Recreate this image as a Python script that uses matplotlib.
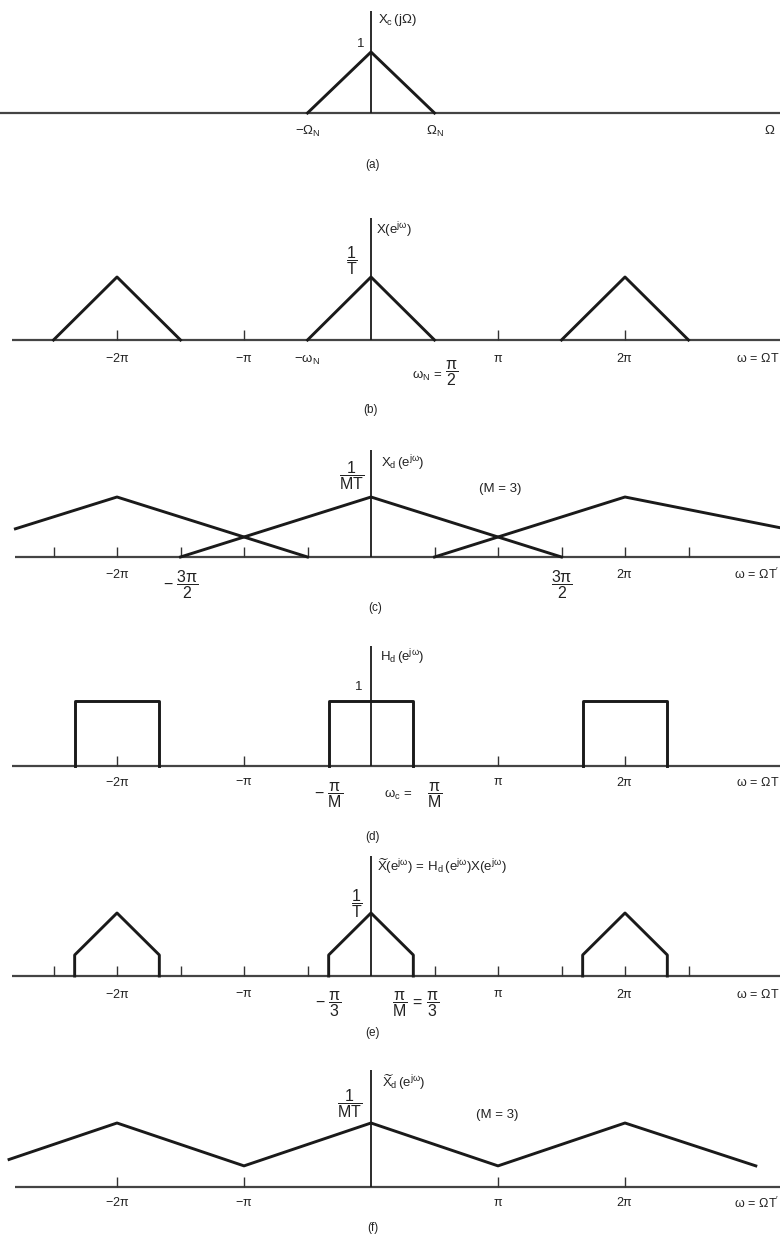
import matplotlib.pyplot as plt
import numpy as np

plt.rcParams['font.family'] = ['Liberation Sans', 'DejaVu Sans']
plt.rcParams['mathtext.fontset'] = 'custom'
plt.rcParams['mathtext.rm'] = 'Liberation Sans'
plt.rcParams['mathtext.it'] = 'Liberation Sans:italic'
plt.rcParams['mathtext.default'] = 'regular'

# x values are in units of pi (omega / pi), heights relative to the peak

# (a) continuous-time spectrum, Omega_N drawn at the same width as pi/2
a_x = [-0.5, 0, 0.5]
a_y = [0, 1, 0]

# (b) X(e^jw): triangles of half-width pi/2 repeated every 2pi
b_centers = [-2, 0, 2]
b_shape_x = [-0.5, 0, 0.5]
b_shape_y = [0, 1, 0]
b_ticks = [-2, -1, 1, 2]

# (c) Xd(e^jw), M = 3, stretched triangles (half-width 3pi/2)
c_left_x = [-2.8, -2, -0.5]
c_left_y = [0.47, 1, 0]
c_mid_x = [-1.5, 0, 1.5]
c_mid_y = [0, 1, 0]
c_right_x = [0.5, 2, 3.24]
c_right_y = [0, 1, 0.48]
c_ticks = [-2.5, -2, -1.5, -1, -0.5, 0.5, 1, 1.5, 2, 2.5]

# (d) Hd(e^jw), ideal lowpass, cutoff pi/M
d_centers = [-2, 0, 2]
d_shape_x = [-1/3, -1/3, 1/3, 1/3]
d_shape_y = [0, 1, 1, 0]
d_ticks = [-2, -1, 1, 2]

# (e) filtered spectrum: triangles cut at +-pi/3
e_centers = [-2, 0, 2]
e_shape_x = [-1/3, -1/3, 0, 1/3, 1/3]
e_shape_y = [0, 1/3, 1, 1/3, 0]
e_ticks = [-2.5, -2, -1.5, -1, -0.5, 0.5, 1, 1.5, 2, 2.5]

# (f) decimated filtered spectrum
f_x = [-2.85, -2, -1, 0, 1, 2, 3.03]
f_y = [0.43, 1, 0.33, 1, 0.33, 1, 0.33]
f_ticks = [-2, -1, 1, 2]

W, H = 780, 1237
X0, PI_PX = 371, 127
LINE = '#1a1a1a'
AXC = '#444444'
TS = 9      # tick label size
LS = 9.5    # curve label size
FS = 11.5   # fraction size

fig = plt.figure(figsize=(W / 100, H / 100), dpi=100)
fig.patch.set_facecolor('white')


def make_axes(top, bot, base, unit):
    ax = fig.add_axes([0, 1 - bot / H, 1, (bot - top) / H])
    ax.set_xlim(-X0 / PI_PX, (W - X0) / PI_PX)
    ax.set_ylim(-(bot - base) / unit, (base - top) / unit)
    ax.axis('off')
    ax.unit = unit
    return ax


def px_x(p):
    return (p - X0) / PI_PX


def below(ax, x, off, s, size=TS, ha='center'):
    ax.text(x, -off / ax.unit, s, ha=ha, va='center', fontsize=size, color='#222')


def ftext(xp, yp, s, size=LS, ha='center'):
    fig.text(xp / W, 1 - yp / H, s, ha=ha, va='center', fontsize=size, color='#222')


def base_axis(ax, start, vtop, ticks):
    ax.hlines(0, start, (W - X0) / PI_PX, color=AXC, lw=1.6)
    ax.vlines(0, 0, vtop / ax.unit, color=LINE, lw=1.3)
    if len(ticks):
        ax.vlines(ticks, 0, 10 / ax.unit, color='#333', lw=1.0)


# ---- (a)
ax = make_axes(0, 200, 113, 61)
base_axis(ax, px_x(0), 102, [])
ax.plot(a_x, a_y, color=LINE, lw=2.1)
ftext(378, 20, r'$X_c\,(j\Omega)$', ha='left')
ftext(361, 44, '1')
below(ax, -0.5, 18, r'$-\Omega_N$', size=LS)
below(ax, 0.5, 18, r'$\Omega_N$', size=LS)
below(ax, px_x(770), 17, r'$\Omega$', size=LS)
ftext(372, 165, '(a)', size=8.5)

# ---- (b)
ax = make_axes(200, 420, 340, 63)
base_axis(ax, px_x(12), 122, b_ticks)
for c in b_centers:
    ax.plot(np.array(b_shape_x) + c, b_shape_y, color=LINE, lw=2.1)
ftext(376, 230, r'$X(e^{j\omega})$', ha='left')
ftext(352, 261, r'$\dfrac{1}{T}$', size=FS)
below(ax, -2, 19, r'$-2\pi$')
below(ax, -1, 19, r'$-\pi$')
below(ax, -0.5, 20, r'$-\omega_N$', size=LS)
below(ax, 1, 19, r'$\pi$')
below(ax, 2, 19, r'$2\pi$')
below(ax, px_x(779), 19, r'$\omega\,=\,\Omega T$', ha='right')
ftext(412, 376, r'$\omega_N\,=$', ha='left')
ftext(452, 373, r'$\dfrac{\pi}{2}$', size=FS)
ftext(370, 410, '(b)', size=8.5)

# ---- (c)
ax = make_axes(420, 620, 557, 60)
base_axis(ax, px_x(15), 107, c_ticks)
ax.plot(c_left_x, c_left_y, color=LINE, lw=2.1)
ax.plot(c_mid_x, c_mid_y, color=LINE, lw=2.1)
ax.plot(c_right_x, c_right_y, color=LINE, lw=2.1)
ftext(381, 463, r'$X_d\,(e^{j\omega})$', ha='left')
ftext(352, 476, r'$\dfrac{1}{MT}$', size=FS)
ftext(500, 489, '(M = 3)')
below(ax, -2, 17, r'$-2\pi$')
below(ax, -1.5, 28, r'$-\ \dfrac{3\pi}{2}$', size=FS)
below(ax, 1.5, 28, r'$\dfrac{3\pi}{2}$', size=FS)
below(ax, 2, 17, r'$2\pi$')
below(ax, px_x(779), 17, r"$\omega\,=\,\Omega T'$", ha='right')
ftext(375, 608, '(c)', size=8.5)

# ---- (d)
ax = make_axes(620, 830, 766, 65)
base_axis(ax, px_x(12), 120, d_ticks)
for c in d_centers:
    ax.plot(np.array(d_shape_x) + c, d_shape_y, color=LINE, lw=2.1)
ftext(380, 657, r'$H_d\,(e^{j\omega})$', ha='left')
ftext(359, 687, '1')
below(ax, -2, 16, r'$-2\pi$')
below(ax, -1, 16, r'$-\pi$')
below(ax, -1/3, 29, r'$-\ \dfrac{\pi}{M}$', size=FS)
below(ax, 1, 16, r'$\pi$')
below(ax, 2, 16, r'$2\pi$')
below(ax, px_x(779), 16, r'$\omega\,=\,\Omega T$', ha='right')
ftext(384, 795, r'$\omega_c\,=$', ha='left')
ftext(435, 795, r'$\dfrac{\pi}{M}$', size=FS)
ftext(372, 837, '(d)', size=8.5)

# ---- (e)
ax = make_axes(830, 1040, 976, 63)
base_axis(ax, px_x(12), 120, e_ticks)
for c in e_centers:
    ax.plot(np.array(e_shape_x) + c, e_shape_y, color=LINE, lw=2.1)
ftext(377, 866, r'$\widetilde{X}(e^{j\omega})\,=\,H_d\,(e^{j\omega})X(e^{j\omega})$', ha='left')
ftext(357, 904, r'$\dfrac{1}{T}$', size=FS)
below(ax, -2, 18, r'$-2\pi$')
below(ax, -1, 18, r'$-\pi$')
below(ax, -1/3, 28, r'$-\ \dfrac{\pi}{3}$', size=FS)
below(ax, 1, 18, r'$\pi$')
below(ax, 2, 18, r'$2\pi$')
below(ax, px_x(779), 18, r'$\omega\,=\,\Omega T$', ha='right')
ftext(416, 1004, r'$\dfrac{\pi}{M}\,=\,\dfrac{\pi}{3}$', size=FS)
ftext(372, 1033, '(e)', size=8.5)

# ---- (f)
ax = make_axes(1040, 1237, 1187, 64)
base_axis(ax, px_x(15), 117, f_ticks)
ax.plot(f_x, f_y, color=LINE, lw=2.1)
ftext(382, 1082, r'$\widetilde{X}_d\,(e^{j\omega})$', ha='left')
ftext(350, 1104, r'$\dfrac{1}{MT}$', size=FS)
ftext(497, 1115, '(M = 3)')
below(ax, -2, 16, r'$-2\pi$')
below(ax, -1, 16, r'$-\pi$')
below(ax, 1, 16, r'$\pi$')
below(ax, 2, 16, r'$2\pi$')
below(ax, px_x(779), 16, r"$\omega\,=\,\Omega T'$", ha='right')
ftext(373, 1228, '(f)', size=8.5)

fig.savefig('out.png', dpi=100)
